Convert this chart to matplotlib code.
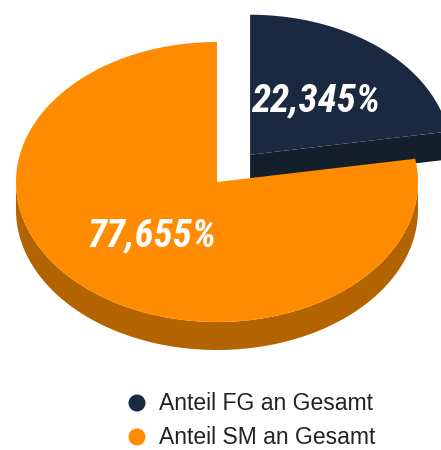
import numpy as np
import matplotlib
matplotlib.use("Agg")
import matplotlib.pyplot as plt
from matplotlib.patches import Polygon, Circle

labels = ["Anteil FG an Gesamt", "Anteil SM an Gesamt"]
values = [22.345, 77.655]
value_texts = ["22,345%", "77,655%"]
top_colors = ["#1b2940", "#ff8c00"]
side_colors = ["#13202c", "#b36400"]
explode = [0.255, 0.0]

fig = plt.figure(figsize=(4.41, 4.5), dpi=100)
ax = fig.add_axes([0, 0, 1, 1])
ax.set_xlim(0, 441)
ax.set_ylim(450, 0)
ax.axis("off")

cx, cy, rx, ry, depth = 217.0, 182.0, 201.0, 140.0, 28.0

def pt(t, ox=0.0, oy=0.0, dz=0.0):
    r = np.radians(t)
    return (cx + ox + rx * np.cos(r), cy + oy - ry * np.sin(r) + dz)

total = sum(values)
# slices go clockwise from 90 degrees
start = 90.0
slices = []
for v, e in zip(values, explode):
    span = 360.0 * v / total
    a1, a0 = start, start - span
    mid = np.radians((a0 + a1) / 2)
    ox, oy = e * rx * np.cos(mid), -e * ry * np.sin(mid)
    slices.append((a0, a1, ox, oy))
    start = a0

for i in range(len(values)):
    a0, a1, ox, oy = slices[i]
    apex = (cx + ox, cy + oy)
    rim = pt(a0, ox, oy)
    face = [apex, rim, (rim[0], rim[1] + depth), (apex[0], apex[1] + depth)]
    ax.add_patch(Polygon(face, closed=True, fc=side_colors[i], ec="none", zorder=2 * i + 1))
    ts = np.linspace(a0, a1, 400)
    vis = ts[np.sin(np.radians(ts)) <= 0.001]
    if len(vis) > 1:
        top = [pt(t, ox, oy) for t in vis]
        bot = [pt(t, ox, oy, depth) for t in vis[::-1]]
        ax.add_patch(Polygon(top + bot, closed=True, fc=side_colors[i], ec="none", zorder=2 * i + 1))
    arc = [pt(t, ox, oy) for t in ts]
    ax.add_patch(Polygon([apex] + arc, closed=True, fc=top_colors[i], ec="none", zorder=2 * i + 2))

label_pos = [(316, 101), (152, 236)]
for (x, y), s in zip(label_pos, value_texts):
    ax.text(x, y, s, color="white", fontsize=28, fontweight="bold", fontstyle="italic",
            family=["Roboto Condensed", "DejaVu Sans"], ha="center", va="center", zorder=10)

leg_y = [403, 437]
for y, lab, c in zip(leg_y, labels, top_colors):
    ax.add_patch(Circle((137, y), 8.5, fc=c, ec="none", zorder=10))
    ax.text(159, y, lab, fontsize=16.5, family="Liberation Sans", color="#222222",
            ha="left", va="center", zorder=10)

fig.savefig("out.png", dpi=100)
